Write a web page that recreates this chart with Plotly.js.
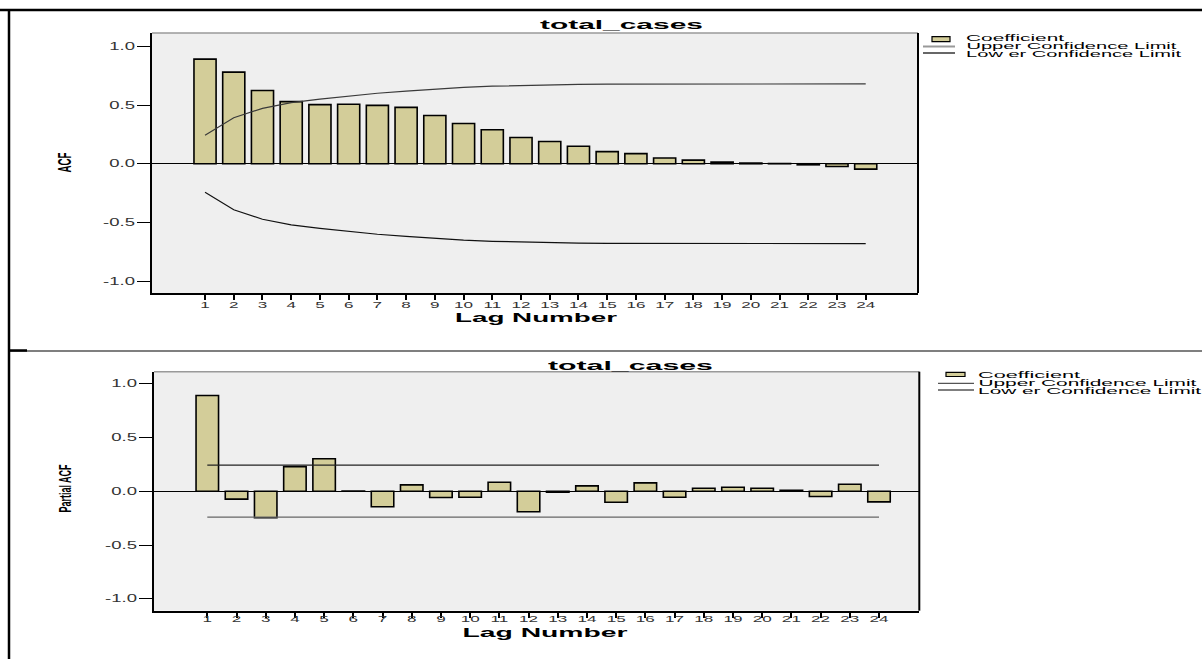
<!DOCTYPE html>
<html>
<head>
<meta charset="utf-8">
<script src="https://cdn.plot.ly/plotly-3.0.1.min.js"></script>
<style>
  html, body { margin: 0; padding: 0; background: #ffffff; }
  #chart { width: 1202px; height: 659px; }
</style>
</head>
<body>
<div id="chart"></div>
<script>
// ---------------- data ----------------
const lags = [1, 2, 3, 4, 5, 6, 7, 8, 9, 10, 11, 12, 13, 14, 15, 16, 17, 18, 19, 20, 21, 22, 23, 24];
const lagTickText = ['1','2','3','4','5','6','7','8','9','10','11','12','13','14','15','16','17','18','19','20','21','22','23','24'];

const acfCoef = [0.891, 0.780, 0.623, 0.529, 0.503, 0.506, 0.497, 0.480, 0.411, 0.343, 0.289, 0.223,
                 0.189, 0.149, 0.103, 0.086, 0.049, 0.031, 0.014, 0.006, 0.002, -0.009, -0.023, -0.046];
const acfUpper = [0.243, 0.392, 0.472, 0.520, 0.550, 0.576, 0.600, 0.618, 0.635, 0.650, 0.660, 0.667,
                  0.672, 0.675, 0.677, 0.678, 0.679, 0.680, 0.680, 0.680, 0.680, 0.680, 0.680, 0.680];
const acfLower = [-0.243, -0.392, -0.472, -0.520, -0.550, -0.576, -0.600, -0.618, -0.635, -0.650, -0.660, -0.667,
                  -0.672, -0.675, -0.677, -0.678, -0.679, -0.680, -0.680, -0.680, -0.680, -0.680, -0.680, -0.680];

const pacfCoef = [0.889, -0.074, -0.247, 0.228, 0.302, 0.002, -0.145, 0.059, -0.059, -0.056, 0.083, -0.191,
                  -0.009, 0.049, -0.102, 0.077, -0.056, 0.028, 0.037, 0.028, 0.009, -0.049, 0.065, -0.099];
const pacfUpper = [0.243, 0.243, 0.243, 0.243, 0.243, 0.243, 0.243, 0.243, 0.243, 0.243, 0.243, 0.243,
                   0.243, 0.243, 0.243, 0.243, 0.243, 0.243, 0.243, 0.243, 0.243, 0.243, 0.243, 0.243];
const pacfLower = [-0.240, -0.240, -0.240, -0.240, -0.240, -0.240, -0.240, -0.240, -0.240, -0.240, -0.240, -0.240,
                   -0.240, -0.240, -0.240, -0.240, -0.240, -0.240, -0.240, -0.240, -0.240, -0.240, -0.240, -0.240];

const yTickVals = [-1, -0.5, 0, 0.5, 1];
const yTickText = ['-1.0', '-0.5', '0.0', '0.5', '1.0'];

const chartTitle = 'total_cases';
const xTitle = 'Lag Number';
const yTitleTop = 'ACF';
const yTitleBottom = 'Partial ACF';
const legendLabels = ['Coefficient', 'Upper Confidence Limit', 'Low er Confidence Limit'];

// ---------------- helpers (pixel -> paper) ----------------
const W = 1202, H = 659;
const px = v => v / W;
const py = v => 1 - v / H;

const BAR_FILL = '#d3cd99';
const SANS = 'Liberation Sans, Arial, sans-serif';
const NARROW = 'Liberation Sans Narrow, Liberation Sans, Arial, sans-serif';

function barTrace(y, xa, ya) {
  return {
    type: 'bar', x: lags, y: y, xaxis: xa, yaxis: ya, width: 0.77,
    marker: { color: BAR_FILL, line: { color: '#000000', width: 1.6 } },
    showlegend: false, hoverinfo: 'skip'
  };
}
function lineTrace(y, xa, ya, color) {
  return {
    type: 'scatter', mode: 'lines', x: lags, y: y, xaxis: xa, yaxis: ya,
    line: { color: color, width: 1.2 }, showlegend: false, hoverinfo: 'skip'
  };
}

const data = [
  barTrace(acfCoef, 'x', 'y'),
  lineTrace(acfUpper, 'x', 'y', '#3a3a3a'),
  lineTrace(acfLower, 'x', 'y', '#111111'),
  barTrace(pacfCoef, 'x2', 'y2'),
  lineTrace(pacfUpper, 'x2', 'y2', '#222222'),
  lineTrace(pacfLower, 'x2', 'y2', '#666666')
];

function xAxis(domain, range, anchor) {
  return {
    domain: domain, range: range, anchor: anchor,
    tickmode: 'array', tickvals: lags, ticktext: lagTickText,
    ticks: 'outside', ticklen: 5, tickwidth: 2, tickcolor: '#000000',
    tickfont: { family: SANS, size: 9.5, color: '#333333' },
    showline: true, linecolor: '#000000', linewidth: 2,
    showgrid: false, zeroline: false, fixedrange: true
  };
}
function yAxis(domain, range, anchor) {
  return {
    domain: domain, range: range, anchor: anchor,
    tickmode: 'array', tickvals: yTickVals, ticktext: yTickText,
    ticks: 'outside', ticklen: 13, tickwidth: 1, tickcolor: '#000000',
    tickfont: { family: SANS, size: 10, color: '#333333' },
    showline: true, linecolor: '#000000', linewidth: 2,
    showgrid: false, zeroline: true, zerolinecolor: '#000000', zerolinewidth: 1,
    fixedrange: true
  };
}

function ann(text, x, y, size, bold, family, angle) {
  return {
    text: bold ? '<b>' + text + '</b>' : text,
    xref: 'paper', yref: 'paper', x: px(x), y: py(y),
    xanchor: 'center', yanchor: 'middle', showarrow: false,
    textangle: angle || 0, borderpad: 0,
    font: { family: family, size: size, color: '#000000' }
  };
}

// target horizontal extents (px) for each annotation, same order as annotations
const annWidths = [163, 165, 162, 165, 20, 48, 98, 210, 215, 102, 218, 223];
const annotations = [
  ann(chartTitle, 621.5, 25, 13, true, SANS),
  ann(chartTitle, 630.5, 365, 13, true, SANS),
  ann(xTitle, 536, 317.5, 12, true, SANS),
  ann(xTitle, 544.5, 632.5, 12, true, SANS),
  ann(yTitleTop, 65, 163, 18, true, NARROW, -90),
  ann(yTitleBottom, 66, 489, 17, true, NARROW, -90),
  ann(legendLabels[0], 1015.5, 38, 8.5, false, SANS),
  ann(legendLabels[1], 1071.7, 46, 8.5, false, SANS),
  ann(legendLabels[2], 1074.2, 53.5, 8.5, false, SANS),
  ann(legendLabels[0], 1029, 375, 8.5, false, SANS),
  ann(legendLabels[1], 1087.3, 383.2, 8.5, false, SANS),
  ann(legendLabels[2], 1089.8, 390.7, 8.5, false, SANS)
];

function pline(x0, y0, x1, y1, color, width) {
  return { type: 'line', xref: 'paper', yref: 'paper',
           x0: px(x0), y0: py(y0), x1: px(x1), y1: py(y1),
           line: { color: color, width: width } };
}
function prect(x0, y0, x1, y1) {
  return { type: 'rect', xref: 'paper', yref: 'paper',
           x0: px(x0), y0: py(y0), x1: px(x1), y1: py(y1),
           fillcolor: BAR_FILL, line: { color: '#000000', width: 1.2 } };
}
function domLine(xr, yr, x0, y0, x1, y1, color, width) {
  return { type: 'line', xref: xr + ' domain', yref: yr + ' domain',
           x0: x0, y0: y0, x1: x1, y1: y1, line: { color: color, width: width } };
}

const shapes = [
  // outer frame
  pline(0, 10, W, 10, '#000000', 2.5),
  pline(9, 10, 9, H, '#000000', 2.5),
  pline(9, 351, W, 351, '#000000', 1.2),
  pline(9, 350.5, 27, 350.5, '#000000', 2.5),
  // plot borders (top grey, right black)
  domLine('x', 'y', 0, 1, 1, 1, '#9a9a9a', 1.5),
  domLine('x', 'y', 1, 0, 1, 1, '#000000', 2),
  domLine('x2', 'y2', 0, 1, 1, 1, '#9a9a9a', 1.5),
  domLine('x2', 'y2', 1, 0, 1, 1, '#000000', 2),
  // top legend symbols
  prect(932, 36.7, 950, 41.7),
  pline(923, 46.5, 955, 46.5, '#999999', 2),
  pline(923, 53, 955, 53, '#000000', 1.2),
  // bottom legend symbols
  prect(946, 372.3, 965, 376.5),
  pline(938, 383.3, 974, 383.3, '#555555', 1.2),
  pline(938, 390, 974, 390, '#000000', 1.2)
];

const layout = {
  width: W, height: H,
  margin: { l: 0, r: 0, t: 0, b: 0, pad: 0 },
  paper_bgcolor: '#ffffff',
  plot_bgcolor: '#efefef',
  showlegend: false,
  bargap: 0,
  xaxis: xAxis([px(152), px(918)], [-0.846, 25.82], 'y'),
  yaxis: yAxis([py(293), py(33)], [-1.10, 1.113], 'x'),
  xaxis2: xAxis([px(154), px(919.3)], [-0.825, 25.38], 'y2'),
  yaxis2: yAxis([py(610.7), py(371.7)], [-1.11, 1.11], 'x2'),
  annotations: annotations,
  shapes: shapes
};

function stretchText(el, target) {
  const w = el.getComputedTextLength();
  if (w > 0) {
    el.setAttribute('textLength', target);
    el.setAttribute('lengthAdjust', 'spacingAndGlyphs');
  }
}
function nudgeY(el, dy) {
  const tr = el.getAttribute('transform') || '';
  el.setAttribute('transform', (tr + ' translate(0,' + dy + ')').trim());
}

Plotly.newPlot('chart', data, layout, { displayModeBar: false, staticPlot: true }).then(gd => {
  // widen tick labels horizontally to match the reference's wide lettering
  gd.querySelectorAll('g.xtick > text').forEach(t => {
    stretchText(t, t.getComputedTextLength() * 1.8);
    nudgeY(t, -3.5);
  });
  gd.querySelectorAll('g.x2tick > text').forEach(t => {
    stretchText(t, t.getComputedTextLength() * 1.8);
    nudgeY(t, -7);
  });
  gd.querySelectorAll('g.ytick > text, g.y2tick > text').forEach(t => {
    stretchText(t, t.getComputedTextLength() * 1.85);
  });
  gd.querySelectorAll('g.annotation').forEach(g => {
    const i = +g.getAttribute('data-index');
    const t = g.querySelector('text.annotation-text');
    if (t && annWidths[i]) stretchText(t, annWidths[i]);
  });
});
</script>
</body>
</html>
